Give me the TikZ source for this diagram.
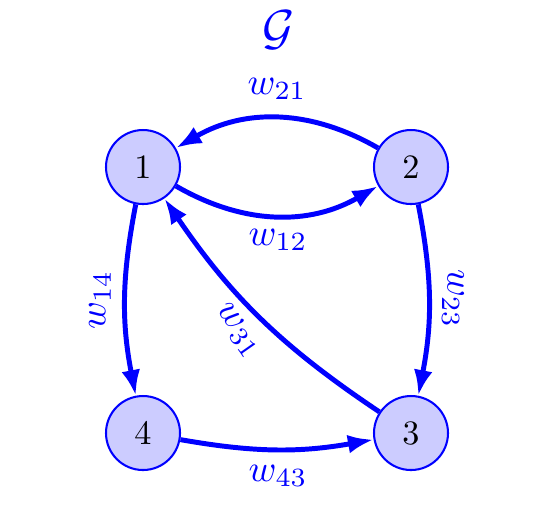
\documentclass[tikz,border=0pt]{standalone}
\usetikzlibrary{arrows.meta}
\begin{document}
\begin{tikzpicture}[x=0.2924pt,y=-0.2924pt,
  vertex/.style={circle,draw=blue,fill=blue!20,line width=0.6pt,minimum size=74*0.2924pt,inner sep=0pt,text=black},
  edge/.style={draw=blue,line width=1.45pt,-{Latex[length=7.5pt,width=5.5pt]}},
  wlabel/.style={text=blue,inner sep=0pt,scale=1.1}]
\useasboundingbox (0,0) rectangle (550,530);
\node[text=blue,inner sep=0pt] (title) at (279,30) {\Large$\mathcal{G}$};
\node[vertex] (n1) at (143,167) {1};
\node[vertex] (n2) at (411,167) {2};
\node[vertex] (n3) at (411,433) {3};
\node[vertex] (n4) at (143,433) {4};
\draw[edge] (n2) to[bend right=30] (n1);
\draw[edge] (n1) to[bend right=30] (n2);
\draw[edge] (n1) to[bend right=11] (n4);
\draw[edge] (n2) to[bend left=11] (n3);
\draw[edge] (n3) to[bend left=11] (n1);
\draw[edge] (n4) to[bend right=10] (n3);
\node[wlabel] (l21) at (277,89) {$w_{21}$};
\node[wlabel] (l12) at (278,240) {$w_{12}$};
\node[wlabel] (l43) at (278,476) {$w_{43}$};
\node[wlabel,rotate=90] (l14) at (100,300) {$w_{14}$};
\node[wlabel,rotate=-90] (l23) at (453,299) {$w_{23}$};
\node[wlabel,rotate=-55] (l31) at (238,331) {$w_{31}$};
\end{tikzpicture}
\end{document}
